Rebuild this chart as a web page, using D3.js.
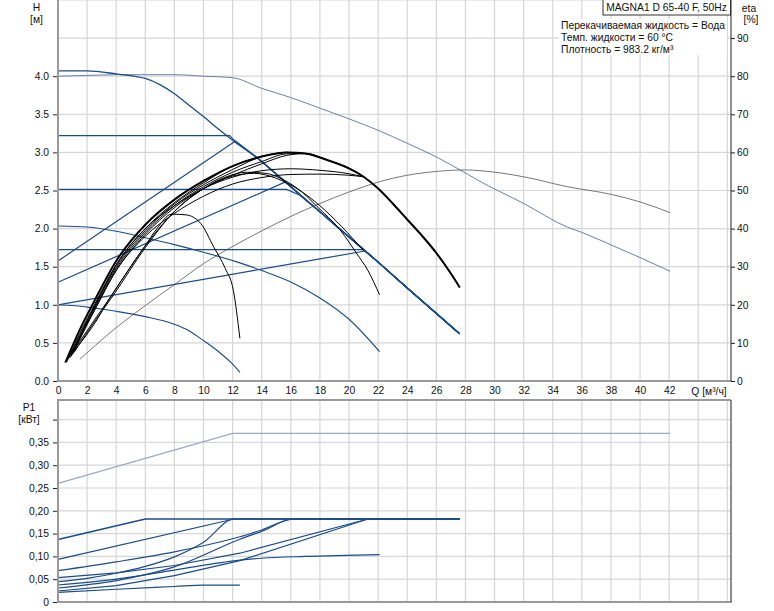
<!DOCTYPE html>
<html><head><meta charset="utf-8">
<script src="https://cdn.jsdelivr.net/npm/d3@7"></script>
<style>
body{margin:0;background:#fff}
svg{display:block}
text{font-family:"Liberation Sans",Arial,sans-serif;font-size:10.3px;fill:#111}
</style>
</head><body>
<svg id="c" width="774" height="611"></svg>
<script>
// ---------- tick labels ----------
const qTicks = [0,2,4,6,8,10,12,14,16,18,20,22,24,26,28,30,32,34,36,38,40,42];
const qGrid = [2,4,6,8,10,12,14,16,18,20,22,24,26,28,30,32,34,36,38,40,42,44,46];
const hTicks = [0,0.5,1.0,1.5,2.0,2.5,3.0,3.5,4.0];
const hGrid = [0.5,1.0,1.5,2.0,2.5,3.0,3.5,4.0,4.5,5.0];
const etaTicks = [0,10,20,30,40,50,60,70,80,90];
const pTicks = [0,0.05,0.10,0.15,0.20,0.25,0.30,0.35,0.40];
const pLabels = ["0","0,05","0,10","0,15","0,20","0,25","0,30","0,35",""];

// ---------- H curves [Q m3/h, H m] ----------
const hMax = [[0,4.07],[2,4.07],[4,4.03],[6,3.97],[7,3.89],[8,3.77],[9,3.62],[10,3.47],[11,3.31],[12,3.16],[13.75,2.92],[16,2.55],[18,2.22],[20,1.89],[22,1.56],[24,1.22],[27.6,0.62]];
const hConst322 = [[0,3.22],[11.8,3.22],[12.3,3.12]];
const hProp157 = [[0,1.575],[12.2,3.15]];
const hConst251 = [[0,2.515],[15.7,2.515],[16.6,2.44]];
const hProp130 = [[0,1.295],[15.6,2.61]];
const hConst173 = [[0,1.723],[21.0,1.723],[21.2,1.685]];
const hProp100 = [[0,1.0],[21.1,1.706]];
const hFixed = [[0,2.035],[2,2.02],[4,1.965],[6,1.88],[8,1.79],[10,1.69],[12.5,1.55],[14,1.45],[16,1.30],[18,1.09],[20,0.81],[22.1,0.385]];
const hMin = [[0,1.0],[1,0.99],[2,0.97],[3,0.945],[4,0.915],[6,0.845],[8,0.745],[9,0.66],[10,0.53],[11,0.39],[12,0.22],[12.5,0.114]];
const hLight = [[0,4.0],[2,4.01],[4,4.02],[6,4.02],[8,4.02],[10,4.0],[12,3.98],[14,3.84],[16,3.72],[18,3.58],[20,3.44],[22,3.29],[24,3.12],[26,2.94],[28,2.73],[29,2.62],[32,2.33],[35,2.02],[36,1.95],[38.2,1.77],[40,1.62],[42.06,1.44]];

// ---------- eta curves [Q, eta %] ----------
const etaMax = [[0.5,4.8],[1.5,13.5],[2.5,21],[4,31.5],[6,41],[8,47.6],[10,52.5],[12,56.4],[14,58.9],[15.7,60],[17,59.7],[18.5,58],[20,55.8],[21,53.6],[22,50.5],[23,46.6],[24,42.4],[25,38.2],[26,33.6],[27,28.2],[27.6,24.6]];
const etaConst322 = [[0.6,5],[1.5,12.5],[2.5,20],[4,30.5],[6,40],[8,46.8],[10,52],[12,56.4]];
const etaProp157 = [[0.8,6],[1.5,12],[2.5,19.5],[4,30],[6,39.5],[8,46.5],[10,51.5],[12,55.5],[14,58.9]];
const etaConst251 = [[0.9,6.5],[2.5,19],[4,29.5],[6,39],[8,46],[10,51],[12,54.8],[14,57.6],[15.7,59.6],[17,59.7]];
const etaProp130 = [[1,7],[2.5,18.5],[4,29],[6,38.5],[8,45.5],[10,50.5],[12,54],[14,57],[15.7,59.2],[17,59.7]];
const etaConst173 = [[0.9,6.5],[2.5,19.5],[4,30.5],[6,40],[8,46],[10,50.5],[12,53.5],[14,55.2],[16,55.7],[18,55.3],[20,54.4],[21,53.6]];
const etaProp100 = [[0.7,6],[2.5,18.5],[4,29],[6,38],[8,44],[10,48.5],[12,51.7],[14,53.4],[16,54.2],[18,54.3],[20,54],[21,53.6]];
const etaFixed = [[0.9,7],[2.5,16],[3.6,22],[5.9,35],[8,44.5],[9.8,50],[11.5,53.5],[13,54.8],[14.3,54.5],[15.5,52.8],[16.8,49.5],[17.8,45.8],[19.4,39.6],[20.5,33.6],[21.3,29],[22.1,22.6]];
const etaFixedB = [[1.1,7.5],[2.5,15.5],[3.8,22.5],[6,35],[8,44.5],[10,50.5],[12,53.8],[13.5,54.5],[15,53.2],[16.5,50.3],[18,46],[19.5,40.5],[21,34.2]];
const etaMin = [[0.9,7],[2.5,15],[3.6,22],[5,30],[5.9,35],[6.8,40],[7.8,43.8],[8.8,43.6],[9.8,41.4],[10.7,35.2],[11.5,29.5],[12.05,23.8],[12.5,11.2]];
const etaLight = [[1.5,5.7],[4,14],[6,19.8],[8,25.3],[10,30.8],[12,35.3],[14,39.4],[16,43.2],[18,46.6],[20,49.6],[22,52.2],[24,54],[26,55],[28,55.4],[29,55.2],[32,53.6],[35,51],[38,49],[40,47],[42.06,44.2]];

// ---------- P1 curves [Q, kW] ----------
const pMax = [[0,0.137],[6,0.182],[27.6,0.182]];
const pConst322 = [[0,0.0936],[12.1,0.182]];
const pProp157 = [[0,0.0446],[2,0.052],[4,0.063],[6,0.078],[8,0.099],[10,0.131],[12.1,0.182]];
const pConst251 = [[0,0.0687],[4,0.088],[8,0.11],[12.5,0.143],[14,0.158],[16.2,0.182]];
const pProp130 = [[0,0.0307],[4,0.047],[8,0.077],[12.5,0.1375],[14,0.155],[16.2,0.182]];
const pConst173 = [[0,0.0533],[4,0.064],[8,0.08],[12.5,0.107],[21.3,0.182]];
const pProp100 = [[0,0.0241],[4,0.036],[8,0.058],[12.5,0.0906],[21.3,0.182]];
const pFixed = [[0,0.0373],[4,0.05],[8,0.07],[12.5,0.092],[14,0.096],[17,0.1],[22.1,0.104]];
const pMin = [[0,0.0212],[4,0.028],[8,0.034],[10,0.037],[12.5,0.037]];
const pLight = [[0,0.26],[12,0.37],[42.06,0.37]];

// ---------- texts ----------
const titleText = "MAGNA1 D 65-40 F, 50Hz";
const infoLines = ["Перекачиваемая жидкость = Вода","Темп. жидкости = 60 °C","Плотность = 983.2 кг/м³"];

// ---------- layout ----------
const L = 58, R = 731, T1 = 0, B1 = 381, T2 = 400, B2 = 602;
const x = d3.scaleLinear().domain([0,46.25]).range([L,R]);
const yH = d3.scaleLinear().domain([0,5]).range([B1,T1]);
const yEta = d3.scaleLinear().domain([0,100]).range([B1,T1]);
const yP = d3.scaleLinear().domain([0,0.443]).range([B2,T2]);

const svg = d3.select("#c");
svg.append("rect").attr("width",774).attr("height",611).attr("fill","#fff");

const GRID = "#d6d6d6";
// grids
const g1 = svg.append("g");
g1.selectAll("line.v").data(qGrid).join("line").attr("x1",d=>x(d)).attr("x2",d=>x(d)).attr("y1",T1).attr("y2",B1).attr("stroke",GRID).attr("stroke-width",1.2);
g1.selectAll("line.h").data(hGrid).join("line").attr("class","h").attr("x1",L).attr("x2",R).attr("y1",d=>yH(d)).attr("y2",d=>yH(d)).attr("stroke",GRID).attr("stroke-width",1.2);
const g2 = svg.append("g");
g2.selectAll("line.v").data(qGrid).join("line").attr("x1",d=>x(d)).attr("x2",d=>x(d)).attr("y1",T2).attr("y2",B2).attr("stroke",GRID).attr("stroke-width",1.2);
g2.selectAll("line.h").data(pTicks.slice(1)).join("line").attr("class","h").attr("x1",L).attr("x2",R).attr("y1",d=>yP(d)).attr("y2",d=>yP(d)).attr("stroke",GRID).attr("stroke-width",1.2);

// helpers
const follow = (pts, full) => pts.concat(full.filter(d => d[0] > pts[pts.length-1][0]));
const lineH = (c) => d3.line().x(d=>x(d[0])).y(d=>yH(d[1])).curve(c||d3.curveLinear);
const lineE = (c) => d3.line().x(d=>x(d[0])).y(d=>yEta(d[1])).curve(c||d3.curveMonotoneX);
const lineP = (c) => d3.line().x(d=>x(d[0])).y(d=>yP(d[1])).curve(c||d3.curveLinear);

const BLUE = "#1b4c88", LIGHT = "#5a73a2", BLACK = "#000";
function path(d, color, w){ svg.append("path").attr("d",d).attr("fill","none").attr("stroke",color).attr("stroke-width",w).attr("stroke-linejoin","round"); }

// top panel: light curves
path(lineH(d3.curveMonotoneX)(hLight), LIGHT, 0.9);
path(lineE()(etaLight), "#555", 0.8);

// blue H curves
path(lineH(d3.curveMonotoneX)(hMax), BLUE, 1.3);
[hConst322,hProp157,hConst251,hProp130,hConst173,hProp100].forEach(c => path(lineH()(follow(c,hMax)), BLUE, 1.2));
path(lineH(d3.curveMonotoneX)(hFixed), BLUE, 1.1);
path(lineH(d3.curveMonotoneX)(hMin), BLUE, 1.1);

// eta curves
path(lineE()(etaMax), BLACK, 2);
[etaConst322,etaProp157,etaConst251,etaProp130].forEach(c => path(lineE()(follow(c,etaMax)), BLACK, 1));
[etaConst173,etaProp100,etaFixed,etaFixedB,etaMin].forEach(c => path(lineE()(c), BLACK, 1));

// bottom panel curves
path(lineP()(pLight), "#9ea9c4", 1.3);
path(lineP()(pMax), BLUE, 1.4);
[pConst322,pConst173,pProp100].forEach(c => path(lineP()(follow(c,pMax)), BLUE, 1.2));
[pProp157,pConst251,pProp130].forEach(c => path(lineP(d3.curveMonotoneX)(follow(c,pMax)), BLUE, 1.2));
path(lineP(d3.curveMonotoneX)(pFixed), BLUE, 1.2);
path(lineP(d3.curveMonotoneX)(pMin), BLUE, 1.2);

// frames
const AX = "#9a9a9a";
function ln(x1,y1,x2,y2,c,w){ svg.append("line").attr("x1",x1).attr("y1",y1).attr("x2",x2).attr("y2",y2).attr("stroke",c).attr("stroke-width",w); }
ln(L,T1,L,B1+1,AX,2); ln(L-1,B1,R,B1,AX,2);
ln(R,T1,R,B1,"#222",1);
ln(L-1,T2,R,T2,AX,2); ln(L,T2,L,B2,AX,2); ln(L-1,B2,R+1,B2,AX,2); ln(R,T2,R,B2,"#666",1.5);

// left H axis
const axH = svg.append("g").attr("transform",`translate(${L-1},0)`)
  .call(d3.axisLeft(yH).tickValues(hTicks).tickFormat(d3.format(".1f")).tickSize(4).tickPadding(4));
axH.select(".domain").remove();
axH.selectAll("line").attr("stroke","#222");
axH.selectAll("text").style("font-size","10.3px").attr("fill","#111");

// right eta axis
const axE = svg.append("g").attr("transform",`translate(${R},0)`)
  .call(d3.axisRight(yEta).tickValues(etaTicks).tickSize(4).tickPadding(2));
axE.select(".domain").remove();
axE.selectAll("line").attr("stroke","#222");
axE.selectAll("text").style("font-size","10.3px").attr("fill","#111");

// P axis
const axP = svg.append("g").attr("transform",`translate(${L-1},0)`)
  .call(d3.axisLeft(yP).tickValues(pTicks).tickFormat((d,i)=>pLabels[i]).tickSize(4).tickPadding(4));
axP.select(".domain").remove();
axP.selectAll("line").attr("stroke","#222");
axP.selectAll("text").style("font-size","10.3px").attr("fill","#111");

// Q labels between panels
const axQ = svg.append("g").attr("transform",`translate(0,${B1+2})`)
  .call(d3.axisBottom(x).tickValues(qTicks).tickSize(0).tickPadding(4));
axQ.select(".domain").remove();
axQ.selectAll("text").style("font-size","10.3px").attr("fill","#111");

function txt(s,xx,yy,anchor){ return svg.append("text").attr("x",xx).attr("y",yy).attr("text-anchor",anchor||"start").text(s); }
txt("Q [м³/ч]", 709, 395, "middle");
txt("H", 36.5, 11, "middle");
txt("[м]", 36.5, 23, "middle");
txt("eta", 749, 12, "middle");
txt("[%]", 751, 23, "middle");
txt("P1", 29, 411, "middle");
txt("[кВт]", 29, 423, "middle");

// title box
svg.append("rect").attr("x",603).attr("y",-1).attr("width",127.5).attr("height",16).attr("fill","#fff").attr("stroke","#333").attr("stroke-width",1);
txt(titleText, 666.5, 11, "middle");
infoLines.forEach((s,i)=>{
  svg.append("rect").attr("x",559).attr("y",19+i*12).attr("width",168).attr("height",12).attr("fill","#fff");
});
infoLines.forEach((s,i)=>txt(s, 561, 29+i*12, "start"));
</script>
</body></html>
